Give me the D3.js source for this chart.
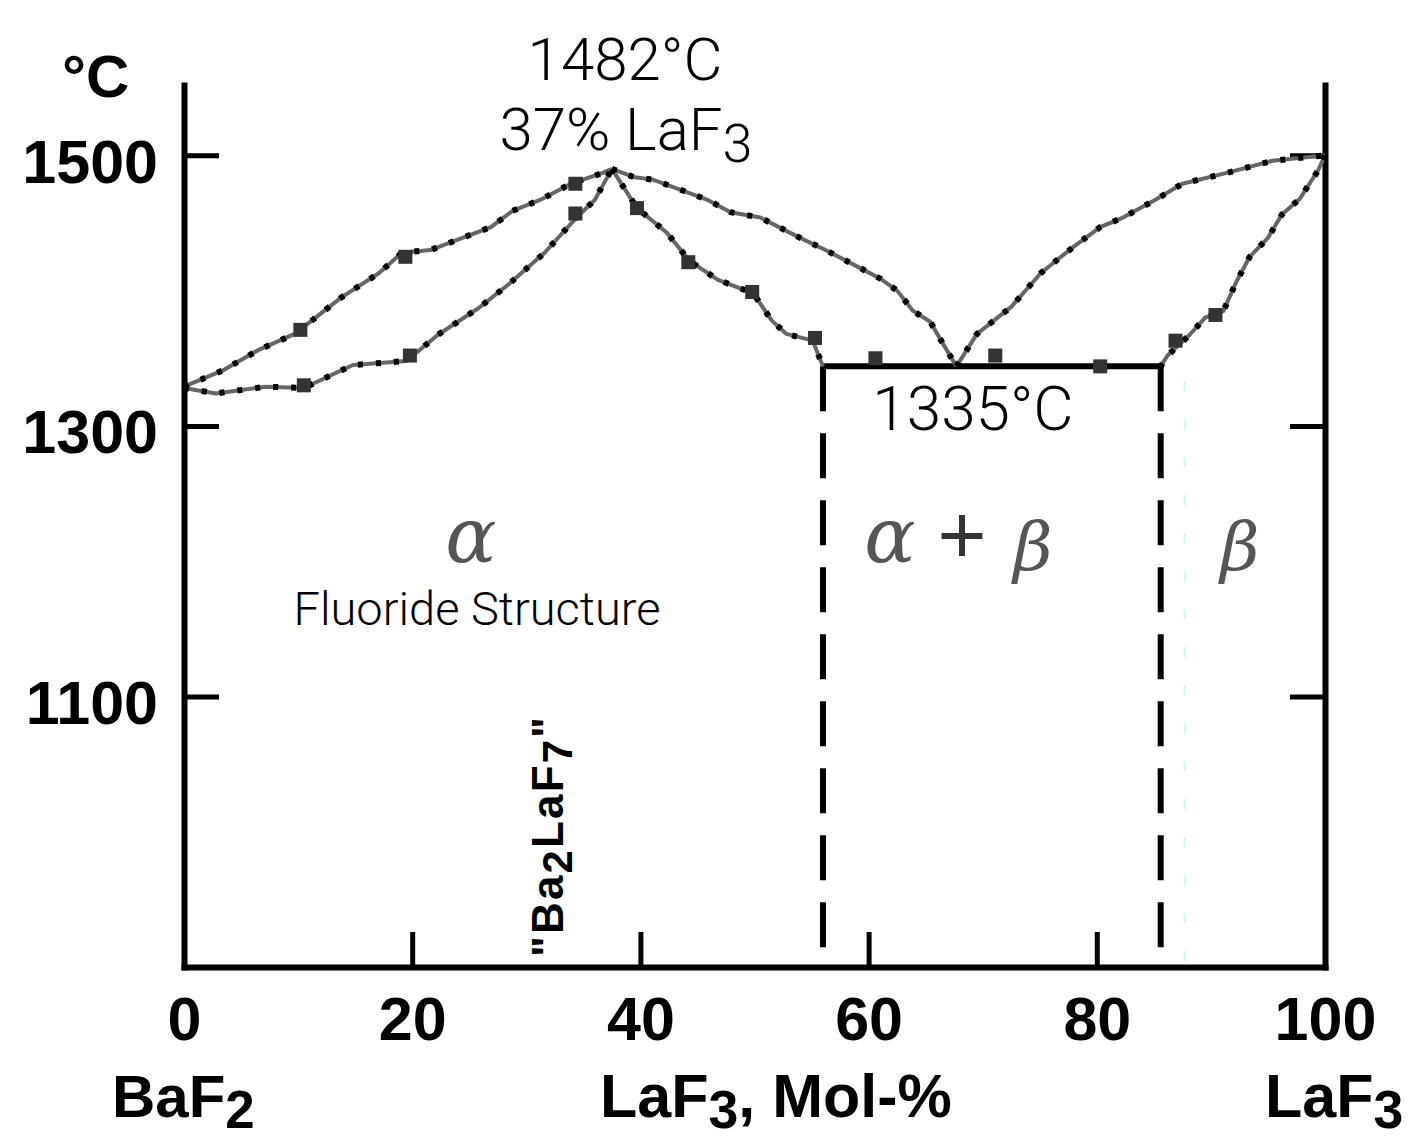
<!DOCTYPE html>
<html>
<head>
<meta charset="utf-8">
<script src="https://cdn.jsdelivr.net/npm/d3@7"></script>
<style>
  body { margin: 0; background: #fff; }
  text { font-family: "Liberation Sans", Arial, sans-serif; }
  .thin { font-family: Roboto, "Liberation Sans", sans-serif; font-weight: 300; }
  .greek { font-family: "DejaVu Serif", "Liberation Serif", serif; font-style: italic; fill: #555; }
</style>
</head>
<body>
<svg id="chart"></svg>
<script>
// BaF2 - LaF3 phase diagram (mol-% LaF3, degC)
const tickT = [1100, 1300, 1500];
const tickX = [0, 20, 40, 60, 80, 100];

// alpha (fluoride) liquidus and solidus, left of the maximum
const alphaLiqLeft = [[0, 1329], [3.4, 1341], [6.5, 1356], [9.7, 1368], [13.8, 1395], [17.1, 1413], [19.1, 1428], [21.6, 1430], [24.4, 1439], [26.9, 1447], [28.8, 1459], [31.2, 1467], [33.9, 1479], [36.7, 1487], [37.5, 1490]];
const alphaSolLeft = [[0, 1328], [2.8, 1324], [7.2, 1329], [10.5, 1328], [14.8, 1345], [19.5, 1348], [22.2, 1367], [25.8, 1387], [28.5, 1405], [31.6, 1428], [34.4, 1454], [36.0, 1467], [37.5, 1490]];
// right of the maximum down to the eutectic
const alphaLiqRight = [[37.5, 1490], [39.4, 1484], [41.1, 1482], [43.7, 1474], [45.9, 1467], [47.9, 1458], [50.5, 1454], [54.0, 1439], [56.0, 1431], [59.2, 1417], [61.0, 1409], [62.5, 1400], [63.9, 1385], [65.4, 1377], [66.5, 1361], [67.7, 1344]];
const alphaSolRight = [[37.5, 1490], [39.7, 1461], [42.3, 1443], [44.3, 1422], [46.8, 1408], [49.9, 1398], [51.5, 1378], [52.8, 1368], [55.1, 1363], [56.0, 1344]];
// beta (tysonite) side
const betaLiq = [[67.7, 1344], [69.5, 1368], [72.5, 1388], [75.1, 1413], [77.9, 1432], [80.3, 1447], [82.3, 1454], [85.1, 1467], [87.5, 1479], [91.4, 1487], [95.4, 1496], [100, 1500]];
const betaSol = [[100, 1500], [99.4, 1489], [97.8, 1468], [96.2, 1456], [95.0, 1439], [93.4, 1425], [92.2, 1406], [91.1, 1385], [89.5, 1380], [88.1, 1367], [86.2, 1352], [85.6, 1344]];

// measured points
const measured = [[10.2, 1371], [19.4, 1425], [34.3, 1479], [10.5, 1330], [19.8, 1352], [34.3, 1457], [39.7, 1461], [44.2, 1421], [49.8, 1399], [55.3, 1365], [60.6, 1350], [71.1, 1352], [80.3, 1344], [86.9, 1363], [90.4, 1382]];

const eutecticT = 1344;
const eutecticLimits = [56.0, 85.6];
const faintLine = 87.7;

const width = 1413, height = 1143;
const svg = d3.select("#chart").attr("width", width).attr("height", height);
svg.append("rect").attr("width", width).attr("height", height).attr("fill", "#fff");

const x = d3.scaleLinear().domain([0, 100]).range([184, 1325]);
const y = d3.scaleLinear().domain([900, 1552]).range([967, 85]);

// axes
const left = svg.append("g").attr("transform", "translate(" + x(0) + ",0)")
  .call(d3.axisLeft(y).tickValues(tickT).tickSize(-35).tickSizeOuter(0).tickPadding(26).tickFormat(d3.format("d")));
const right = svg.append("g").attr("transform", "translate(" + x(100) + ",0)")
  .call(d3.axisRight(y).tickValues(tickT).tickSize(-35).tickSizeOuter(0).tickFormat(""));
const bottom = svg.append("g").attr("transform", "translate(0," + y(900) + ")")
  .call(d3.axisBottom(x).tickValues(tickX).tickSize(-35).tickSizeOuter(0).tickPadding(30));

[left, right, bottom].forEach(g => {
  g.select(".domain").attr("stroke", "#000").attr("stroke-width", 6).attr("stroke-linecap", "square");
  g.selectAll(".tick line").attr("stroke", "#000").attr("stroke-width", 5);
  g.selectAll(".tick text").attr("fill", "#000").attr("font-size", 61).attr("font-weight", "bold")
    .attr("font-family", "Liberation Sans, Arial, sans-serif");
});
left.selectAll(".tick text").attr("dy", "0.44em");

// faint dotted line right of the beta boundary
svg.append("line")
  .attr("x1", x(faintLine)).attr("x2", x(faintLine))
  .attr("y1", y(eutecticT) + 15).attr("y2", y(900) - 5)
  .attr("stroke", "#c8f4fb").attr("stroke-width", 2).attr("stroke-dasharray", "10,28");

// dashed phase boundaries below the eutectic
eutecticLimits.forEach(v => {
  svg.append("line")
    .attr("x1", x(v)).attr("x2", x(v))
    .attr("y1", y(eutecticT)).attr("y2", y(900))
    .attr("stroke", "#000").attr("stroke-width", 6).attr("stroke-dasharray", "45,22");
});

// eutectic horizontal
svg.append("line")
  .attr("x1", x(eutecticLimits[0])).attr("x2", x(eutecticLimits[1]))
  .attr("y1", y(eutecticT)).attr("y2", y(eutecticT))
  .attr("stroke", "#000").attr("stroke-width", 6);

// curves
const line = d3.line().x(d => x(d[0])).y(d => y(d[1]));
[alphaLiqLeft, alphaSolLeft, alphaLiqRight, alphaSolRight, betaLiq, betaSol].forEach(c => {
  svg.append("path").datum(c).attr("d", line)
    .attr("fill", "none").attr("stroke", "#666").attr("stroke-width", 4).attr("stroke-linejoin", "round");
  svg.append("path").datum(c).attr("d", line)
    .attr("fill", "none").attr("stroke", "#000").attr("stroke-width", 6).attr("stroke-dasharray", "5,13");
});

svg.selectAll(".pt").data(measured).enter().append("rect")
  .attr("class", "pt")
  .attr("x", d => x(d[0]) - 7).attr("y", d => y(d[1]) - 7)
  .attr("width", 14).attr("height", 14)
  .attr("fill", "#333");

// labels
function label(tx, ty, parts, opts) {
  const t = svg.append("text").attr("x", tx).attr("y", ty)
    .attr("font-size", opts.size).attr("fill", "#000");
  if (opts.weight) t.attr("font-weight", opts.weight);
  if (opts.cls) t.attr("class", opts.cls);
  if (opts.anchor) t.attr("text-anchor", opts.anchor);
  if (opts.transform) t.attr("transform", opts.transform);
  if (opts.len) t.attr("textLength", opts.len).attr("lengthAdjust", "spacing");
  parts.forEach(p => {
    const s = t.append("tspan").text(p.t);
    if (p.sub) s.attr("dy", p.sub).attr("font-size", opts.size * (opts.subScale || 0.9));
    if (p.back) s.attr("dy", p.back);
  });
  return t;
}

label(62, 97, [{ t: "°C" }], { size: 60, weight: "bold" });
label(625, 80, [{ t: "1482°C" }], { size: 60, cls: "thin", anchor: "middle" });
label(626, 150, [{ t: "37% LaF" }, { t: "3", sub: 12 }], { size: 60, cls: "thin", anchor: "middle" });
label(973, 430, [{ t: "1335°C" }], { size: 62, cls: "thin", anchor: "middle" });
label(477, 625, [{ t: "Fluoride Structure" }], { size: 47, cls: "thin", anchor: "middle" });

label(112, 1117, [{ t: "BaF" }, { t: "2", sub: 11 }], { size: 60, weight: "bold", subScale: 0.88 });
label(600, 1117, [{ t: "LaF" }, { t: "3", sub: 11 }, { t: ", Mol-%", back: -11 }], { size: 61, weight: "bold", subScale: 0.88 });
label(1265, 1117, [{ t: "LaF" }, { t: "3", sub: 11 }], { size: 61, weight: "bold", subScale: 0.88 });

label(0, 0, [{ t: "\"Ba" }, { t: "2", sub: 9 }, { t: "LaF", back: -9 }, { t: "7", sub: 9 }, { t: "\"", back: -9 }],
  { size: 44, weight: "bold", subScale: 0.95, len: 240, transform: "translate(563,957) rotate(-90)" });

// phase field symbols
svg.append("text").attr("class", "greek").attr("x", 471).attr("y", 562).attr("text-anchor", "middle").attr("font-size", 76).text("α");
svg.append("text").attr("class", "greek").attr("x", 890).attr("y", 562).attr("text-anchor", "middle").attr("font-size", 76).text("α");
svg.append("text").attr("x", 962).attr("y", 563).attr("text-anchor", "middle").attr("font-size", 84).attr("fill", "#333").text("+");
svg.append("text").attr("class", "greek").attr("x", 1033).attr("y", 570).attr("text-anchor", "middle").attr("font-size", 68).text("β");
svg.append("text").attr("class", "greek").attr("x", 1240).attr("y", 570).attr("text-anchor", "middle").attr("font-size", 68).text("β");
</script>
</body>
</html>
